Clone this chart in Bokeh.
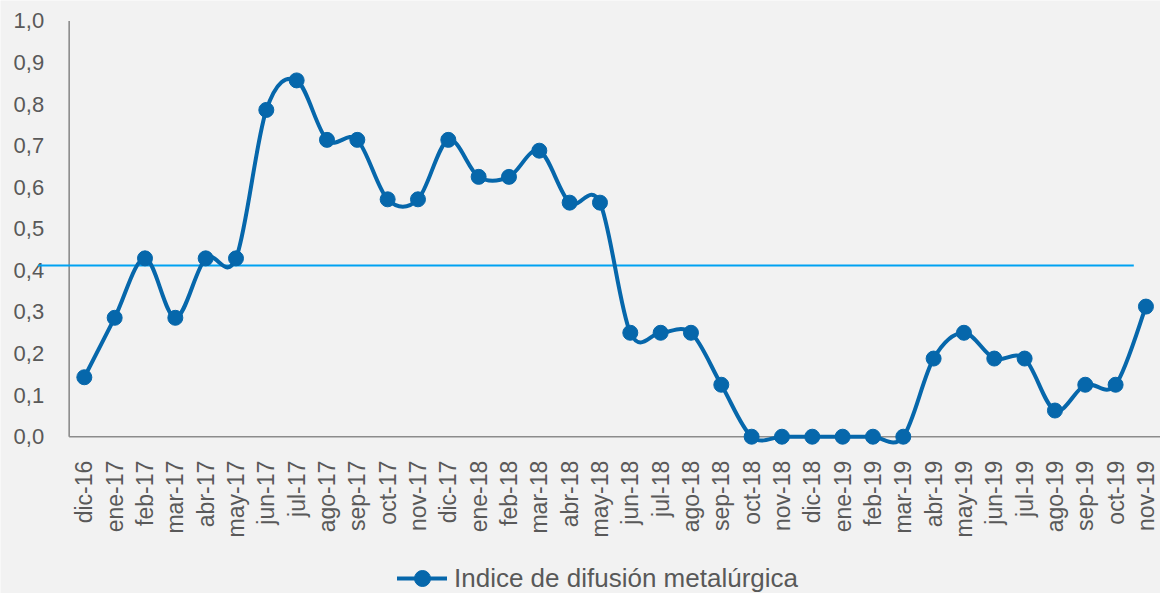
import math
from bokeh.plotting import figure
from bokeh.models import ColumnDataSource, Legend, LegendItem, Range1d
from bokeh.core.properties import value
from bokeh.embed import file_html
from bokeh.resources import INLINE

# ---------------- data ----------------
months = ["dic-16", "ene-17", "feb-17", "mar-17", "abr-17", "may-17", "jun-17", "jul-17",
          "ago-17", "sep-17", "oct-17", "nov-17", "dic-17", "ene-18", "feb-18", "mar-18",
          "abr-18", "may-18", "jun-18", "jul-18", "ago-18", "sep-18", "oct-18", "nov-18",
          "dic-18", "ene-19", "feb-19", "mar-19", "abr-19", "may-19", "jun-19", "jul-19",
          "ago-19", "sep-19", "oct-19", "nov-19"]
indice = [0.143, 0.286, 0.429, 0.286, 0.429, 0.429, 0.786, 0.857,
          0.714, 0.714, 0.571, 0.571, 0.714, 0.625, 0.625, 0.688,
          0.563, 0.563, 0.250, 0.250, 0.250, 0.125, 0.0, 0.0,
          0.0, 0.0, 0.0, 0.0, 0.188, 0.250, 0.188, 0.188,
          0.063, 0.125, 0.125, 0.313]
reference_level = 0.412
y_ticks = [0.0, 0.1, 0.2, 0.3, 0.4, 0.5, 0.6, 0.7, 0.8, 0.9, 1.0]
y_tick_labels = ["0,0", "0,1", "0,2", "0,3", "0,4", "0,5", "0,6", "0,7", "0,8", "0,9", "1,0"]
series_name = "Indice de difusión metalúrgica"

# ---------------- styles ----------------
BG = "#F2F2F2"
LINE = "#0667AB"
REF = "#00A2F2"
AXIS = "#8C8C8C"
TXT = "#595959"
FONT = "Liberation Sans"

xs = list(range(len(months)))

# smooth (Catmull-Rom style) bezier segments built from the data points
n = len(indice)
seg = dict(x0=[], y0=[], x1=[], y1=[], cx0=[], cy0=[], cx1=[], cy1=[])
for i in range(n - 1):
    p0 = (xs[i - 1], indice[i - 1]) if i > 0 else (xs[i], indice[i])
    p1 = (xs[i], indice[i])
    p2 = (xs[i + 1], indice[i + 1])
    p3 = (xs[i + 2], indice[i + 2]) if i + 2 < n else (xs[i + 1], indice[i + 1])
    seg["x0"].append(p1[0]); seg["y0"].append(p1[1])
    seg["x1"].append(p2[0]); seg["y1"].append(p2[1])
    seg["cx0"].append(p1[0] + (p2[0] - p0[0]) / 6.0)
    seg["cy0"].append(p1[1] + (p2[1] - p0[1]) / 6.0)
    seg["cx1"].append(p2[0] - (p3[0] - p1[0]) / 6.0)
    seg["cy1"].append(p2[1] - (p3[1] - p1[1]) / 6.0)

W, H = 1160, 593
p = figure(width=W, height=H, output_backend="svg", toolbar_location=None,
           x_axis_type=None, y_axis_type=None, min_border=0,
           x_range=Range1d(-2.764, 35.48), y_range=Range1d(-0.3771, 1.0492),
           background_fill_color=BG, border_fill_color=BG, outline_line_color=None)
p.grid.visible = False

# axis lines
p.segment(x0=[-0.5], y0=[0], x1=[-0.5], y1=[1.0], line_color=AXIS, line_width=1.6)
p.segment(x0=[-0.5], y0=[0], x1=[len(months)], y1=[0], line_color=AXIS, line_width=1.6)

# y tick labels
p.text(x=[-0.5] * len(y_ticks), y=y_ticks, text=y_tick_labels, x_offset=-25,
       text_align="right", text_baseline="middle", text_color=TXT,
       text_font=value(FONT), text_font_size="22px")

# x tick labels (vertical)
p.text(x=xs, y=[0] * len(xs), text=months, y_offset=24, angle=math.pi / 2,
       text_align="right", text_baseline="middle", text_color=TXT,
       text_font=value(FONT), text_font_size="23px")

# reference line
p.segment(x0=[-1.528], y0=[reference_level], x1=[34.6], y1=[reference_level],
          line_color=REF, line_width=2)

# series
curve = p.bezier(source=ColumnDataSource(seg), x0="x0", y0="y0", x1="x1", y1="y1",
                 cx0="cx0", cy0="cy0", cx1="cx1", cy1="cy1",
                 line_color=LINE, line_width=4, line_cap="round")
dots = p.scatter(x=xs, y=indice, size=15, fill_color=LINE, line_color=LINE)

legend = Legend(items=[LegendItem(label=series_name, renderers=[curve, dots])],
                location=(397, -5), orientation="horizontal",
                background_fill_alpha=0, border_line_color=None,
                padding=0, margin=0, glyph_width=50, glyph_height=40,
                label_standoff=7, label_text_font=FONT, label_text_font_size="26px",
                label_text_color=TXT, label_text_baseline="middle")
p.add_layout(legend)

open("out.html", "w").write(file_html(p, INLINE))
